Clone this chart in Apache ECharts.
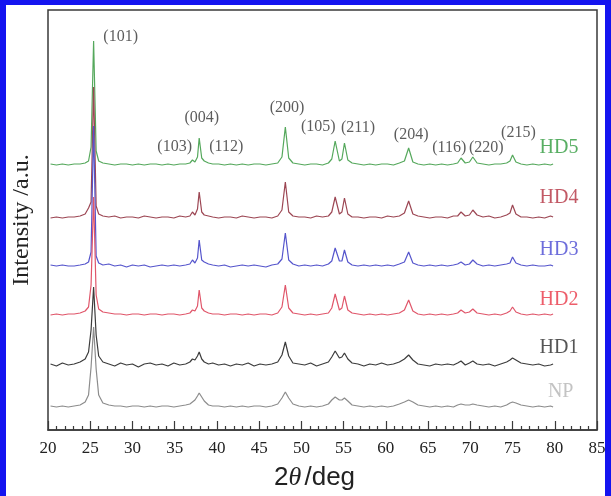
<!DOCTYPE html>
<html>
<head>
<meta charset="utf-8">
<script src="https://cdn.jsdelivr.net/npm/echarts@6/dist/echarts.min.js"></script>
<style>
body { margin: 0; background: #1414f0; }
#chart { position: absolute; left: 6px; top: 5px; width: 599px; height: 491px; background: #fff; }
</style>
</head>
<body>
<div id="chart"></div>
<script>
// 2theta sampling (deg)
const twoTheta = [
  20.3, 21.0, 21.7, 22.4, 23.1, 23.8, 24.4, 24.8, 25.1, 25.4, 25.7, 26.0, 26.5,
  27.2, 27.9, 28.6, 29.3, 30.0, 30.7, 31.4, 32.1, 32.8, 33.5, 34.2, 34.9, 35.6, 36.3, 36.8,
  37.1, 37.4, 37.7, 37.9, 38.2, 38.5, 38.7, 39.0, 39.5,
  40.2, 40.9, 41.6, 42.3, 43.0, 43.7, 44.4, 45.1, 45.8, 46.5, 47.2,
  47.7, 48.1, 48.5, 49.0,
  49.7, 50.4, 51.1, 51.8, 52.5, 53.2,
  53.6, 54.0, 54.5, 54.8, 55.1, 55.5, 56.0,
  56.7, 57.4, 58.1, 58.8, 59.5, 60.2, 60.9, 61.6,
  62.2, 62.7, 63.2, 63.8,
  64.5, 65.2, 65.9, 66.6, 67.3, 68.0,
  68.5, 68.9, 69.4, 69.9, 70.3, 70.8,
  71.5, 72.2, 72.9, 73.6, 74.3,
  74.7, 75.0, 75.4, 76.0,
  76.7, 77.4, 78.1, 78.8, 79.5, 79.8
]

// intensities above each pattern's own baseline (a.u.)
const hd5 = [
  1, 0, 1, 0, 1, 1, 2, 4, 18, 124, 14, 4, 2,
  1, 0, 1, 1, 0, 1, 0, 1, 1, 0, 1, 0, 1, 1, 2,
  5, 3, 8, 27, 7, 4, 6, 2, 1,
  1, 0, 1, 0, 1, 0, 1, 1, 0, 1, 2,
  8, 38, 7, 2,
  1, 0, 1, 1, 0, 2,
  6, 24, 4, 6, 22, 5, 2,
  1, 0, 1, 0, 1, 1, 0, 2,
  4, 17, 3, 1,
  0, 1, 0, 1, 0, 1,
  2, 7, 2, 3, 8, 2,
  1, 0, 1, 1, 2,
  4, 10, 3, 1,
  0, 1, 0, 1, 0, 1
]
const hd4 = [
  0, 1, 0, 1, 1, 2, 4, 10, 16, 131, 12, 4, 2,
  1, 2, 0, 1, 1, 0, 2, 1, 0, 1, 1, 0, 2, 1, 2,
  6, 3, 9, 26, 6, 3, 5, 2, 1,
  0, 1, 1, 0, 2, 1, 0, 1, 1, 0, 2,
  8, 36, 6, 2,
  1, 1, 0, 2, 1, 2,
  6, 21, 4, 6, 20, 4, 1,
  1, 0, 1, 1, 0, 2, 1, 2,
  5, 17, 4, 2,
  1, 0, 1, 1, 0, 2,
  2, 6, 2, 3, 8, 3,
  1, 2, 0, 1, 3,
  5, 13, 4, 1,
  1, 0, 1, 0, 2, 1
]
const hd3 = [
  1, 0, 1, 0, 0, 1, 2, 4, 14, 140, 10, 3, 1,
  2, 0, 1, -1, 1, 0, 1, -1, 0, 1, 0, 1, 0, 1, 2,
  6, 3, 8, 26, 6, 4, 6, 2, 1,
  0, 1, -1, 0, 1, 0, 1, 0, -1, 1, 2,
  7, 33, 6, 2,
  0, 1, 0, 1, 0, 2,
  5, 18, 5, 5, 16, 4, 1,
  0, 1, 0, 1, 0, 1, 0, 2,
  4, 14, 3, 1,
  0, 1, 0, 1, 0, 1,
  2, 4, 1, 2, 6, 2,
  0, 1, 0, 1, 2,
  3, 9, 3, 1,
  0, 1, 0, 0, 1, 0
]
const hd2 = [
  0, 1, 0, 1, 1, 2, 4, 8, 30, 118, 20, 6, 3,
  2, 1, 1, 0, 1, 1, 0, 1, 1, 0, 1, 1, 0, 1, 2,
  5, 4, 9, 25, 7, 4, 6, 2, 1,
  1, 0, 1, 1, 0, 1, 0, 1, 1, 0, 2,
  8, 30, 7, 2,
  1, 0, 1, 0, 1, 2,
  7, 21, 5, 7, 19, 5, 2,
  1, 0, 1, 0, 1, 0, 1, 2,
  5, 15, 4, 1,
  0, 1, 0, 1, 0, 1,
  2, 5, 2, 3, 6, 2,
  1, 0, 1, 0, 2,
  4, 8, 3, 1,
  0, 1, 0, 1, 0, 1
]
const hd1 = [
  1, -1, 2, 0, 1, 3, 6, 13, 35, 78, 30, 9, 3,
  1, -1, 2, 0, 1, -2, 1, 2, 0, 1, -1, 2, 0, 1, 3,
  6, 5, 9, 13, 6, 3, 4, 1, 2,
  0, 1, -1, 1, 0, 2, -1, 1, 0, 1, 3,
  10, 23, 9, 2,
  1, 0, 2, -1, 1, 3,
  8, 14, 7, 8, 12, 6, 2,
  1, -1, 1, 0, 2, 0, 1, 3,
  6, 10, 5, 1,
  0, -1, 1, 0, 1, 0,
  2, 4, 0, 2, 4, 1,
  0, 1, -1, 1, 3,
  5, 7, 5, 2,
  1, 0, 1, -1, 0, 1
]
const np = [
  1, 0, 1, 0, 1, 2, 5, 12, 40, 80, 38, 12, 4,
  2, 1, 1, 0, 1, 1, 0, 1, 0, 1, 1, 0, 1, 2, 3,
  5, 7, 11, 14, 10, 6, 4, 2, 1,
  1, 0, 1, 0, 1, 0, 1, 1, 0, 1, 3,
  9, 15, 9, 3,
  1, 0, 1, 0, 1, 3,
  7, 10, 7, 7, 9, 6, 2,
  1, 0, 1, 0, 1, 0, 1, 3,
  5, 7, 5, 2,
  1, 0, 1, 0, 1, 0,
  2, 3, 2, 2, 3, 2,
  1, 0, 1, 0, 2,
  4, 5, 4, 2,
  1, 0, 1, 0, 1, 0
]

// vertical stacking offsets of each pattern
const sampleNames = ['HD5', 'HD4', 'HD3', 'HD2', 'HD1', 'NP']
const sampleOffsets = [265, 212, 164, 115, 65, 23]
const sampleValues = [hd5, hd4, hd3, hd2, hd1, np]
const sampleLabelX = [80.5, 80.5, 80.5, 80.5, 80.5, 80.7]
const sampleLabelY = [282, 232, 180, 130, 82, 38]

// reflection labels
const peakNames = ['(101)', '(103)', '(004)', '(112)', '(200)', '(105)', '(211)', '(204)', '(116)', '(220)', '(215)']
const peakLabelX = [28.6, 35.0, 38.2, 41.1, 48.3, 52.0, 56.7, 63.0, 67.5, 71.9, 75.7]
const peakLabelY = [393, 283, 312, 283, 322, 303, 302, 295, 282, 282, 297]

const lineColors = ['#55a85c', '#9c4653', '#5555cc', '#e0566a', '#3c3c3c', '#8c8c8c']
const textColors = ['#2e9a3c', '#b3303f', '#4848d2', '#e83545', '#2a2a2a', '#b4b4b4']

const serif = '"Liberation Serif", "DejaVu Serif", serif'

let chart = echarts.init(document.getElementById('chart'))

let series = sampleNames.map((name, k) => {
    return {
        name: name,
        type: 'line',
        symbol: 'none',
        silent: true,
        lineStyle: { color: lineColors[k], width: 1.2 },
        data: twoTheta.map((t, i) => [t, sampleValues[k][i] + sampleOffsets[k]])
    }
})

series.push({
    type: 'scatter',
    symbolSize: 0,
    silent: true,
    label: {
        show: true,
        position: 'inside',
        formatter: '{b}',
        fontFamily: serif,
        fontSize: 16,
        color: '#333'
    },
    data: peakNames.map((n, i) => ({ name: n, value: [peakLabelX[i], peakLabelY[i]] }))
})

series.push({
    type: 'scatter',
    symbolSize: 0,
    silent: true,
    label: {
        show: true,
        position: 'inside',
        formatter: '{b}',
        fontFamily: serif,
        fontSize: 20
    },
    data: sampleNames.map((n, i) => ({
        name: n,
        value: [sampleLabelX[i], sampleLabelY[i]],
        label: { color: textColors[i] }
    }))
})

let option = {
    animation: false,
    grid: {
        left: 42,
        right: 8,
        top: 5,
        bottom: 66,
        outerBoundsMode: 'none',
        show: true,
        borderColor: '#3a3a3a',
        borderWidth: 1.5,
        backgroundColor: '#fff'
    },
    xAxis: {
        type: 'value',
        min: 20,
        max: 85,
        interval: 5,
        splitLine: { show: false },
        axisLine: { lineStyle: { color: '#3a3a3a', width: 1.5 } },
        axisTick: { inside: true, length: 9, lineStyle: { color: '#3a3a3a', width: 1.2 } },
        minorTick: { show: true, splitNumber: 5, length: 4, lineStyle: { color: '#3a3a3a', width: 1.2 } },
        axisLabel: { fontFamily: serif, fontSize: 17, color: '#222', margin: 10 },
        name: '{a|2}{b|θ} {a|/deg}',
        nameLocation: 'middle',
        nameGap: 35,
        nameTextStyle: {
            padding: [0, 16, 0, 0],
            rich: {
                a: { fontFamily: '"Liberation Sans", Arial, sans-serif', fontSize: 26, color: '#222' },
                b: { fontFamily: '"Liberation Serif", serif', fontStyle: 'italic', fontSize: 26, color: '#222' }
            }
        }
    },
    yAxis: {
        type: 'value',
        min: 0,
        max: 420,
        axisLine: { show: false },
        axisTick: { show: false },
        axisLabel: { show: false },
        splitLine: { show: false },
        name: 'Intensity /a.u.',
        nameLocation: 'middle',
        nameGap: 14,
        nameTextStyle: { fontFamily: serif, fontSize: 24, color: '#222' }
    },
    series: series
}
chart.setOption(option)
</script>
</body>
</html>
